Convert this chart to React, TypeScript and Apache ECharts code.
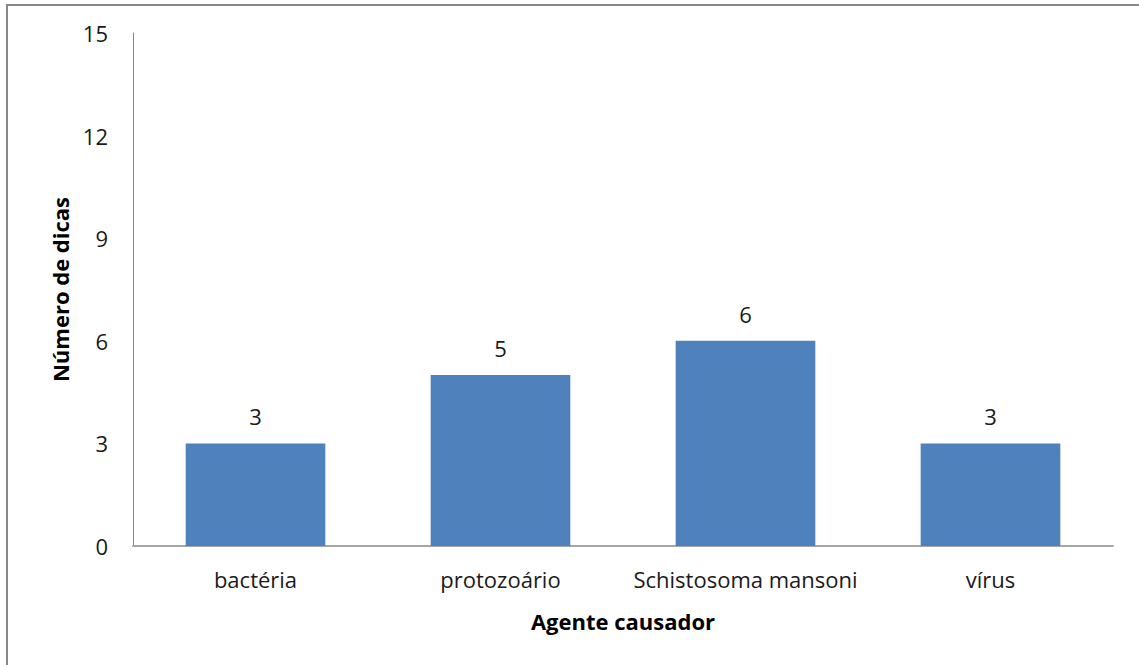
import React, { useEffect, useRef } from "react";
import * as echarts from "echarts";

const categories = ["bactéria", "protozoário", "Schistosoma mansoni", "vírus"];
const values = [3, 5, 6, 3];
const yTicks = { min: 0, max: 15, interval: 3 };

export default function App() {
  const ref = useRef<HTMLDivElement>(null);
  useEffect(() => {
    const chart = echarts.init(ref.current!, null, { renderer: "svg" });
    const font = "'Open Sans', sans-serif";
    chart.setOption({
      animation: false,
      backgroundColor: "#ffffff",
      textStyle: { fontFamily: font },
      grid: { left: 133, top: 33, right: 26, bottom: 119, containLabel: false },
      graphic: [
        {
          type: "rect",
          shape: { x: 7, y: 5, width: 1200, height: 700 },
          style: { fill: "none", stroke: "#878787", lineWidth: 2 },
          silent: true,
        },
      ],
      xAxis: {
        type: "category",
        data: categories,
        name: "Agente causador",
        nameLocation: "middle",
        nameGap: 64,
        nameTextStyle: { fontFamily: font, fontSize: 22, fontWeight: "bold", color: "#000" },
        axisLine: { lineStyle: { color: "#A6A6A6", width: 2 } },
        axisTick: { show: false },
        axisLabel: { interval: 0, fontFamily: font, fontSize: 22, color: "#1a1a1a", margin: 22 },
      },
      yAxis: {
        type: "value",
        min: yTicks.min,
        max: yTicks.max,
        interval: yTicks.interval,
        name: "Número de dicas",
        nameLocation: "middle",
        nameGap: 62,
        nameTextStyle: { fontFamily: font, fontSize: 22, fontWeight: "bold", color: "#000" },
        axisLine: { show: true, lineStyle: { color: "#868686", width: 1 } },
        axisTick: { show: false },
        splitLine: { show: false },
        axisLabel: { fontFamily: font, fontSize: 22, color: "#1a1a1a", margin: 25 },
      },
      series: [
        {
          type: "bar",
          data: values,
          barWidth: "57%",
          itemStyle: { color: "#4F81BD" },
          label: {
            show: true,
            position: "top",
            distance: 16,
            fontFamily: font,
            fontSize: 22,
            color: "#1a1a1a",
          },
        },
      ],
    });
    return () => chart.dispose();
  }, []);
  return (
    <div
      ref={ref}
      style={{ position: "absolute", left: 0, top: 0, width: 1139, height: 665 }}
    />
  );
}
